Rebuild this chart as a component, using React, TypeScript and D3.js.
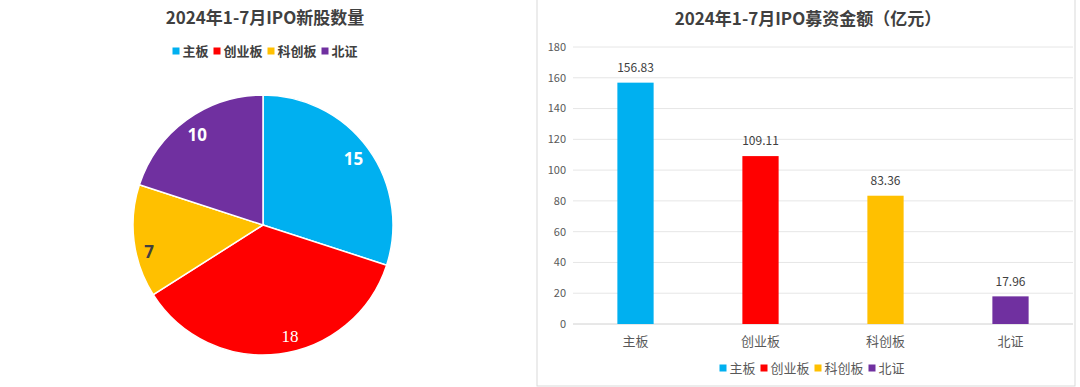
import * as d3 from 'd3';

const categories = ['主板', '创业板', '科创板', '北证'];
const ipoCounts = [15, 18, 7, 10];
const ipoAmounts = [156.83, 109.11, 83.36, 17.96];
const yTicks = [0, 20, 40, 60, 80, 100, 120, 140, 160, 180];
const colors = ['#00B0F0', '#FF0000', '#FFC000', '#7030A0'];

const W = 1080;
const H = 387;
const FONT = '"Noto Sans CJK SC", "Noto Sans", sans-serif';

type Slice = d3.PieArcDatum<number>;

// legend laid out from measured-ish widths
function Legend({ cx, y, size, bold, color }: { cx: number; y: number; size: number; bold: boolean; color: string }) {
  const sw = 7;
  const gap = 3;
  const itemGap = 5;
  const widths = categories.map((c) => sw + gap + c.length * size);
  const total = d3.sum(widths) + itemGap * (categories.length - 1);
  let x = cx - total / 2;
  return (
    <g>
      {categories.map((c, i) => {
        const x0 = x;
        x += widths[i] + itemGap;
        return (
          <g key={c} transform={`translate(${x0},${y})`}>
            <rect x={0} y={-sw / 2} width={sw} height={sw} fill={colors[i]} />
            <text
              x={sw + gap}
              dy="0.35em"
              fontSize={size}
              fontWeight={bold ? 700 : 400}
              fill={color}
              fontFamily={FONT}
            >
              {c}
            </text>
          </g>
        );
      })}
    </g>
  );
}

function PieChart() {
  const cx = 263;
  const cy = 225;
  const r = 130;
  const pie = d3.pie<number>().sort(null).value((d) => d);
  const arcs = pie(ipoCounts);
  const arc = d3.arc<Slice>().innerRadius(0).outerRadius(r);
  const labelColors = ['#fff', '#fff', '#404040', '#fff'];
  const labelWeights = [700, 400, 700, 700];
  // where in each slice the label sits (fraction of the slice's angle, fraction of radius)
  const labelT = [0.5, 0.45, 0.38, 0.5];
  const labelR = [0.86, 0.88, 0.9, 0.86];

  return (
    <g>
      <text x={265} y={18} textAnchor="middle" dy="0.35em" fontSize={17} fontWeight={700} fill="#404040" fontFamily={FONT}>
        2024年1-7月IPO新股数量
      </text>
      <Legend cx={265} y={51} size={13} bold={true} color="#404040" />
      <g transform={`translate(${cx},${cy})`}>
        {arcs.map((a, i) => (
          <path key={i} d={arc(a) || ''} fill={colors[i]} stroke="#fff" strokeWidth={1.5} />
        ))}
        {arcs.map((a, i) => {
          const ang = a.startAngle + (a.endAngle - a.startAngle) * labelT[i];
          const lx = Math.sin(ang) * r * labelR[i];
          const ly = -Math.cos(ang) * r * labelR[i];
          return (
            <text
              key={`l${i}`}
              x={lx}
              y={ly}
              dy="0.35em"
              textAnchor="middle"
              fontSize={17}
              fontWeight={labelWeights[i]}
              fill={labelColors[i]}
              fontFamily={i === 1 ? '"Liberation Serif", serif' : '"Open Sans", sans-serif'}
            >
              {a.data}
            </text>
          );
        })}
      </g>
    </g>
  );
}

function BarChart() {
  const left = 573;
  const right = 1073;
  const top = 47;
  const bottom = 324;
  const x = d3.scaleBand<string>().domain(categories).range([left, right]).paddingInner(0.71).paddingOuter(0.355);
  const y = d3.scaleLinear().domain([0, 180]).range([bottom, top]);

  return (
    <g>
      <rect x={537} y={-1} width={538} height={387} fill="none" stroke="#d9d9d9" strokeWidth={1} />
      <text x={808} y={19} textAnchor="middle" dy="0.35em" fontSize={17} fontWeight={700} fill="#404040" fontFamily={FONT}>
        2024年1-7月IPO募资金额（亿元）
      </text>
      {yTicks.map((t) => (
        <g key={t}>
          <line x1={left} x2={right} y1={y(t)} y2={y(t)} stroke={t === 0 ? '#d0d0d0' : '#e6e6e6'} strokeWidth={1} />
          <text x={566} y={y(t)} dy="0.35em" textAnchor="end" fontSize={11} fill="#595959" fontFamily={FONT}>
            {t}
          </text>
        </g>
      ))}
      {categories.map((c, i) => {
        const bx = x(c) || 0;
        const v = ipoAmounts[i];
        return (
          <g key={c}>
            <rect x={bx} y={y(v)} width={x.bandwidth()} height={y(0) - y(v)} fill={colors[i]} />
            <text
              x={bx + x.bandwidth() / 2}
              y={y(v) - 15}
              dy="0.35em"
              textAnchor="middle"
              fontSize={12}
              fill="#404040"
              fontFamily={FONT}
            >
              {v.toFixed(2)}
            </text>
            <text
              x={bx + x.bandwidth() / 2}
              y={341}
              dy="0.35em"
              textAnchor="middle"
              fontSize={13}
              fill="#595959"
              fontFamily={FONT}
            >
              {c}
            </text>
          </g>
        );
      })}
      <Legend cx={812} y={368} size={13} bold={false} color="#595959" />
    </g>
  );
}

export default function App() {
  return (
    <svg
      width={W}
      height={H}
      viewBox={`0 0 ${W} ${H}`}
      style={{ position: 'absolute', left: 0, top: 0, background: '#fff' }}
    >
      <rect width={W} height={H} fill="#fff" />
      <PieChart />
      <BarChart />
    </svg>
  );
}
